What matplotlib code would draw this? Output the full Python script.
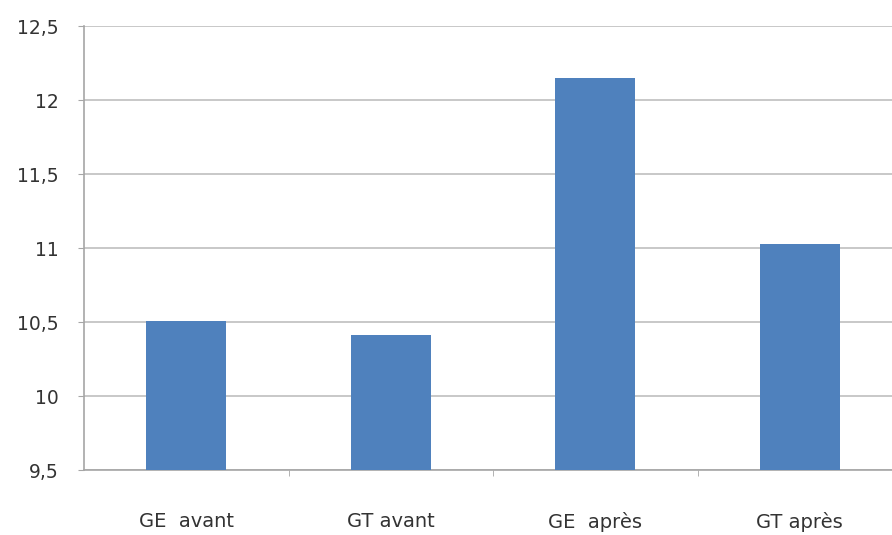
import matplotlib.pyplot as plt
from matplotlib.ticker import FixedLocator, FuncFormatter

# Data
categories = ['GE  avant', 'GT avant', 'GE  après', 'GT après']
values = [10.51, 10.41, 12.15, 11.03]
y_ticks = [9.5, 10, 10.5, 11, 11.5, 12, 12.5]

plt.rcParams['font.family'] = ['DejaVu Sans']

fig = plt.figure(figsize=(8.92, 5.35), dpi=100)
# the right edge of the plot is cut off in the reference
ax = fig.add_axes([84 / 892, 65 / 535, 818 / 892, 444 / 535])

x = range(len(categories))
ax.bar(x, values, width=0.39, bottom=0, color='#4F81BD', zorder=3)

ax.set_xlim(-0.5, len(categories) - 0.5)
ax.set_ylim(9.5, 12.5)
ax.yaxis.set_major_locator(FixedLocator(y_ticks))
ax.yaxis.set_major_formatter(FuncFormatter(lambda v, p: ('%g' % v).replace('.', ',')))
ax.grid(axis='y', color='#BFBFBF', linewidth=1.2, zorder=0)

ax.set_xticks(list(x))
ax.set_xticklabels(categories)
ax.xaxis.set_minor_locator(FixedLocator([0.5, 1.5, 2.5]))
ax.tick_params(axis='x', which='major', length=0, pad=30, labelsize=14, labelcolor='#333333')
ax.tick_params(axis='x', which='minor', length=4.5, color='#A6A6A6')
ax.tick_params(axis='y', length=4.5, color='#A6A6A6', pad=14, labelsize=13.5, labelcolor='#333333')

for s in ['top', 'right']:
    ax.spines[s].set_visible(False)
for s in ['left', 'bottom']:
    ax.spines[s].set_color('#A6A6A6')
    ax.spines[s].set_linewidth(1.2)

fig.savefig('out.png', dpi=100)
